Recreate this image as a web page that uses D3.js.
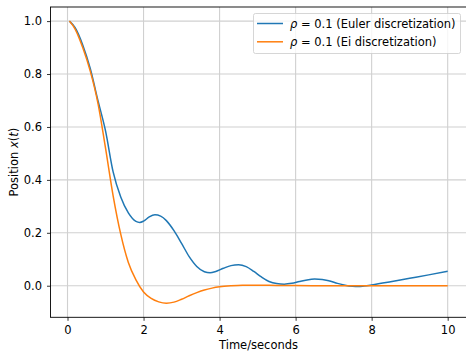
<!DOCTYPE html>
<html><head><meta charset="utf-8">
<script src="https://cdn.jsdelivr.net/npm/d3@7"></script>
<style>body{margin:0;background:#fff}svg{display:block;font-family:"DejaVu Sans",sans-serif}</style>
</head><body><svg id="c" width="466" height="352"></svg>
<script>
const xTicks = [0, 2, 4, 6, 8, 10];
const yTicks = [0.0, 0.2, 0.4, 0.6, 0.8, 1.0];
const seriesNames = ["Euler discretization", "Ei discretization"];
const eulerT = [0.05,0.2,0.4,0.6,0.8,1.0,1.2,1.4,1.6,1.8,1.9,2.0,2.15,2.3,2.45,2.6,2.8,3.0,3.2,3.4,3.6,3.75,3.9,4.1,4.3,4.5,4.7,4.9,5.1,5.3,5.5,5.7,5.9,6.1,6.3,6.5,6.7,6.9,7.1,7.3,7.5,7.65,7.8,8.0,8.5,9.0,9.5,10.0];
const eulerX = [1.0,0.975,0.91,0.82,0.70,0.585,0.43,0.335,0.275,0.243,0.239,0.244,0.26,0.268,0.263,0.246,0.208,0.16,0.11,0.073,0.053,0.049,0.054,0.066,0.076,0.079,0.072,0.054,0.033,0.016,0.008,0.006,0.009,0.016,0.022,0.025,0.024,0.018,0.009,0.002,-0.002,-0.003,-0.001,0.003,0.015,0.028,0.041,0.055];
const eiT = [0.05,0.2,0.4,0.6,0.8,1.0,1.2,1.4,1.6,1.8,2.0,2.2,2.4,2.6,2.8,3.0,3.2,3.4,3.6,3.8,4.0,4.3,4.6,5.0,5.5,6.0,7.0,8.0,9.0,10.0];
const eiX = [1.0,0.97,0.9,0.81,0.69,0.52,0.34,0.195,0.088,0.022,-0.024,-0.048,-0.061,-0.066,-0.062,-0.051,-0.038,-0.026,-0.016,-0.009,-0.004,0.0,0.002,0.002,0.001,0.0005,0,0,0,0];

const FS = 11.5;
const svg = d3.select("#c");
const L = 50.5, R = 466.6, T = 7, B = 317.3;
const x = d3.scaleLinear().domain([-0.4475, 10.4975]).range([L, R]);
const y = d3.scaleLinear().domain([-0.1193, 1.0533]).range([B, T]);

const grid = svg.append("g");
xTicks.forEach(t => grid.append("line").attr("x1", x(t)).attr("x2", x(t)).attr("y1", T).attr("y2", B)
  .attr("stroke", "#d0d0d0").attr("stroke-width", 1.1));
yTicks.forEach(t => grid.append("line").attr("x1", L).attr("x2", R).attr("y1", y(t)).attr("y2", y(t))
  .attr("stroke", "#d0d0d0").attr("stroke-width", 1.1));

const line = d3.line().x(d => x(d[0])).y(d => y(d[1])).curve(d3.curveMonotoneX);
svg.append("path").datum(eulerT.map((t, i) => [t, eulerX[i]])).attr("d", line)
  .attr("fill", "none").attr("stroke", "#1f77b4").attr("stroke-width", 1.5);
svg.append("path").datum(eiT.map((t, i) => [t, eiX[i]])).attr("d", line)
  .attr("fill", "none").attr("stroke", "#ff7f0e").attr("stroke-width", 1.5);

const xAxis = d3.axisBottom(x).tickValues(xTicks).tickFormat(d3.format("d")).tickSize(3.5).tickPadding(5);
const gx = svg.append("g").attr("transform", `translate(0,${B})`).call(xAxis);
const yAxis = d3.axisLeft(y).tickValues(yTicks).tickFormat(d3.format(".1f")).tickSize(3.5).tickPadding(5);
const gy = svg.append("g").attr("transform", `translate(${L},0)`).call(yAxis);
[gx, gy].forEach(g => {
  g.select(".domain").remove();
  g.selectAll("line").attr("stroke", "#000").attr("stroke-width", 0.8);
  g.selectAll("text").attr("font-size", FS).attr("fill", "#000").attr("font-family", "DejaVu Sans");
});
// spines
svg.append("rect").attr("x", L).attr("y", T).attr("width", R - L).attr("height", B - T)
  .attr("fill", "none").attr("stroke", "#000").attr("stroke-width", 0.9);

svg.append("text").attr("x", (L + R) / 2).attr("y", 349).attr("text-anchor", "middle")
  .attr("font-size", FS).text("Time/seconds");
const yl = svg.append("text").attr("transform", `translate(17.5,${(T + B) / 2}) rotate(-90)`)
  .attr("text-anchor", "middle").attr("font-size", FS);
yl.append("tspan").text("Position ");
yl.append("tspan").attr("font-style", "italic").text("x");
yl.append("tspan").text("(");
yl.append("tspan").attr("font-style", "italic").text("t");
yl.append("tspan").text(")");

// legend
const lg = svg.append("g");
lg.append("rect").attr("x", 253.5).attr("y", 13.5).attr("width", 207).attr("height", 40).attr("rx", 2)
  .attr("fill", "#fff").attr("fill-opacity", 0.8).attr("stroke", "#cccccc").attr("stroke-width", 0.8);
const colors = ["#1f77b4", "#ff7f0e"];
seriesNames.forEach((n, i) => {
  const yy = 23.5 + i * 18.3;
  lg.append("line").attr("x1", 257).attr("x2", 283).attr("y1", yy).attr("y2", yy)
    .attr("stroke", colors[i]).attr("stroke-width", 1.5);
  const t = lg.append("text").attr("x", 290).attr("y", yy + 4).attr("font-size", FS);
  t.append("tspan").attr("font-style", "italic").text("ρ");
  t.append("tspan").text(" = 0.1 (" + n + ")");
});
</script></body></html>
